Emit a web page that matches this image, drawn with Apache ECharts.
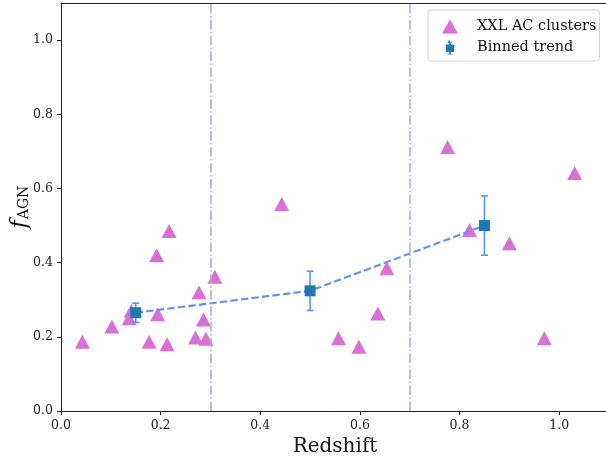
<!DOCTYPE html>
<html>
<head>
<meta charset="utf-8">
<script src="https://cdn.jsdelivr.net/npm/echarts@6/dist/echarts.min.js"></script>
<style>html,body{margin:0;padding:0;background:#fff}#c{width:606px;height:465px}</style>
</head>
<body>
<div id="c"></div>
<script>
// XXL AC clusters
const clusterZ = [0.043, 0.102, 0.141, 0.137, 0.177, 0.213, 0.194, 0.192, 0.217, 0.277, 0.286, 0.270, 0.291, 0.309, 0.443,
                  0.557, 0.598, 0.636, 0.654, 0.776, 0.820, 0.900, 0.970, 1.031];
const clusterF = [0.187, 0.228, 0.270, 0.250, 0.187, 0.180, 0.261, 0.420, 0.485, 0.320, 0.247, 0.198, 0.195, 0.362, 0.558,
                  0.196, 0.173, 0.263, 0.385, 0.712, 0.488, 0.452, 0.196, 0.642];
// Binned trend
const binZ = [0.15, 0.50, 0.85];
const binF = [0.265, 0.324, 0.500];
const binErr = [0.026, 0.053, 0.080];
// Dividing redshifts
const zCuts = [0.3, 0.7];
const xTicks = [0.0, 0.2, 0.4, 0.6, 0.8, 1.0];
const yTicks = [0.0, 0.2, 0.4, 0.6, 0.8, 1.0];

const FONT = 'DejaVu Serif';
const chart = echarts.init(document.getElementById('c'), null, {renderer: 'canvas'});

const clusterData = clusterZ.map((z, i) => [z, clusterF[i]]);
const binData = binZ.map((z, i) => [z, binF[i]]);
const errData = binZ.map((z, i) => [z, binF[i] - binErr[i], binF[i] + binErr[i]]);

const errIcon = 'path://M7,0 L9,0 L9,2 L12,2 L12,3 L10,3 L10,5 L14,5 L14,14 L10,14 L10,16 L12,16 L12,17 L6,17 L6,16 L8,16 L8,14 L4,14 L4,5 L8,5 L8,3 L6,3 L6,2 L7,2 Z';

const axisCommon = {
  axisLine: {show: true, lineStyle: {color: '#222', width: 1}},
  axisTick: {show: true, inside: false, length: 4, lineStyle: {color: '#222', width: 1}},
  splitLine: {show: false},
};

chart.setOption({
  animation: false,
  backgroundColor: '#fff',
  grid: {left: 61, top: 3, right: -3, bottom: 54, containLabel: false, outerBoundsMode: 'none'},
  xAxis: [{
    type: 'value', min: 0, max: 1.1, position: 'bottom',
    name: 'Redshift', nameLocation: 'middle', nameGap: 26, nameMoveOverlap: false,
    nameTextStyle: {fontFamily: FONT, fontSize: 20, color: '#111'},
    ...axisCommon,
    axisTick: {...axisCommon.axisTick, customValues: xTicks},
    axisLabel: {customValues: xTicks, formatter: v => v.toFixed(1), fontFamily: FONT, fontSize: 12.5, color: '#222', margin: 8}
  }, {
    type: 'value', min: 0, max: 1.1, position: 'top',
    axisLine: {show: true, lineStyle: {color: '#222', width: 1}},
    axisTick: {show: false}, axisLabel: {show: false}, splitLine: {show: false}
  }],
  yAxis: {
    type: 'value', min: 0, max: 1.1,
    name: '{f|f}{s|AGN}', nameLocation: 'middle', nameGap: 30, nameRotate: 90, nameMoveOverlap: false,
    nameTextStyle: {
      color: '#111',
      rich: {
        f: {fontFamily: FONT, fontStyle: 'italic', fontSize: 22, color: '#111'},
        s: {fontFamily: FONT, fontSize: 14, color: '#111', padding: [8, 0, 0, 1]}
      }
    },
    ...axisCommon,
    axisTick: {...axisCommon.axisTick, customValues: yTicks},
    axisLabel: {customValues: yTicks, formatter: v => v.toFixed(1), fontFamily: FONT, fontSize: 12.5, color: '#222', margin: 8}
  },
  legend: {
    orient: 'vertical', left: 428, top: 10,
    padding: [9, 3, 6, 14], itemGap: 6, itemWidth: 16, itemHeight: 14,
    backgroundColor: 'rgba(255,255,255,0.8)', borderColor: '#d0d0d0', borderWidth: 1, borderRadius: 3,
    textStyle: {fontFamily: FONT, fontSize: 14.5, color: '#111', padding: [0, 0, 0, 14]},
    data: [
      {name: 'XXL AC clusters', icon: 'triangle', itemStyle: {color: '#DA70D6'}},
      {name: 'Binned trend', icon: errIcon, itemStyle: {color: '#1f77b4'}}
    ]
  },
  series: [
    {
      name: 'cuts', type: 'line', data: [], z: 1,
      markLine: {
        silent: true, symbol: ['none', 'none'], label: {show: false},
        lineStyle: {color: '#b3acd9', width: 1.6, type: [9.6, 2.4, 1.5, 2.4]},
        data: zCuts.map(v => ({xAxis: v}))
      }
    },
    {
      name: 'XXL AC clusters', type: 'scatter', data: clusterData, z: 2,
      symbol: 'triangle', symbolSize: [15, 14],
      itemStyle: {color: '#DA70D6', opacity: 1}
    },
    {
      name: 'trendline', type: 'line', data: binData, z: 3,
      showSymbol: false, symbol: 'none',
      lineStyle: {color: '#6495ED', width: 2.2, type: [7.4, 3.2]}
    },
    {
      name: 'errbars', type: 'custom', data: errData, z: 4,
      renderItem: function (params, api) {
        const x = api.value(0);
        const lo = api.coord([x, api.value(1)]);
        const hi = api.coord([x, api.value(2)]);
        const cw = 3.5;
        const st = {stroke: '#5b93e6', lineWidth: 1.6};
        return {
          type: 'group', children: [
            {type: 'line', shape: {x1: lo[0], y1: lo[1], x2: hi[0], y2: hi[1]}, style: st},
            {type: 'line', shape: {x1: lo[0] - cw, y1: lo[1], x2: lo[0] + cw, y2: lo[1]}, style: st},
            {type: 'line', shape: {x1: hi[0] - cw, y1: hi[1], x2: hi[0] + cw, y2: hi[1]}, style: st}
          ]
        };
      }
    },
    {
      name: 'Binned trend', type: 'scatter', data: binData, z: 5,
      symbol: 'rect', symbolSize: 11,
      itemStyle: {color: '#1f77b4', opacity: 1}
    }
  ]
});
</script>
</body>
</html>
